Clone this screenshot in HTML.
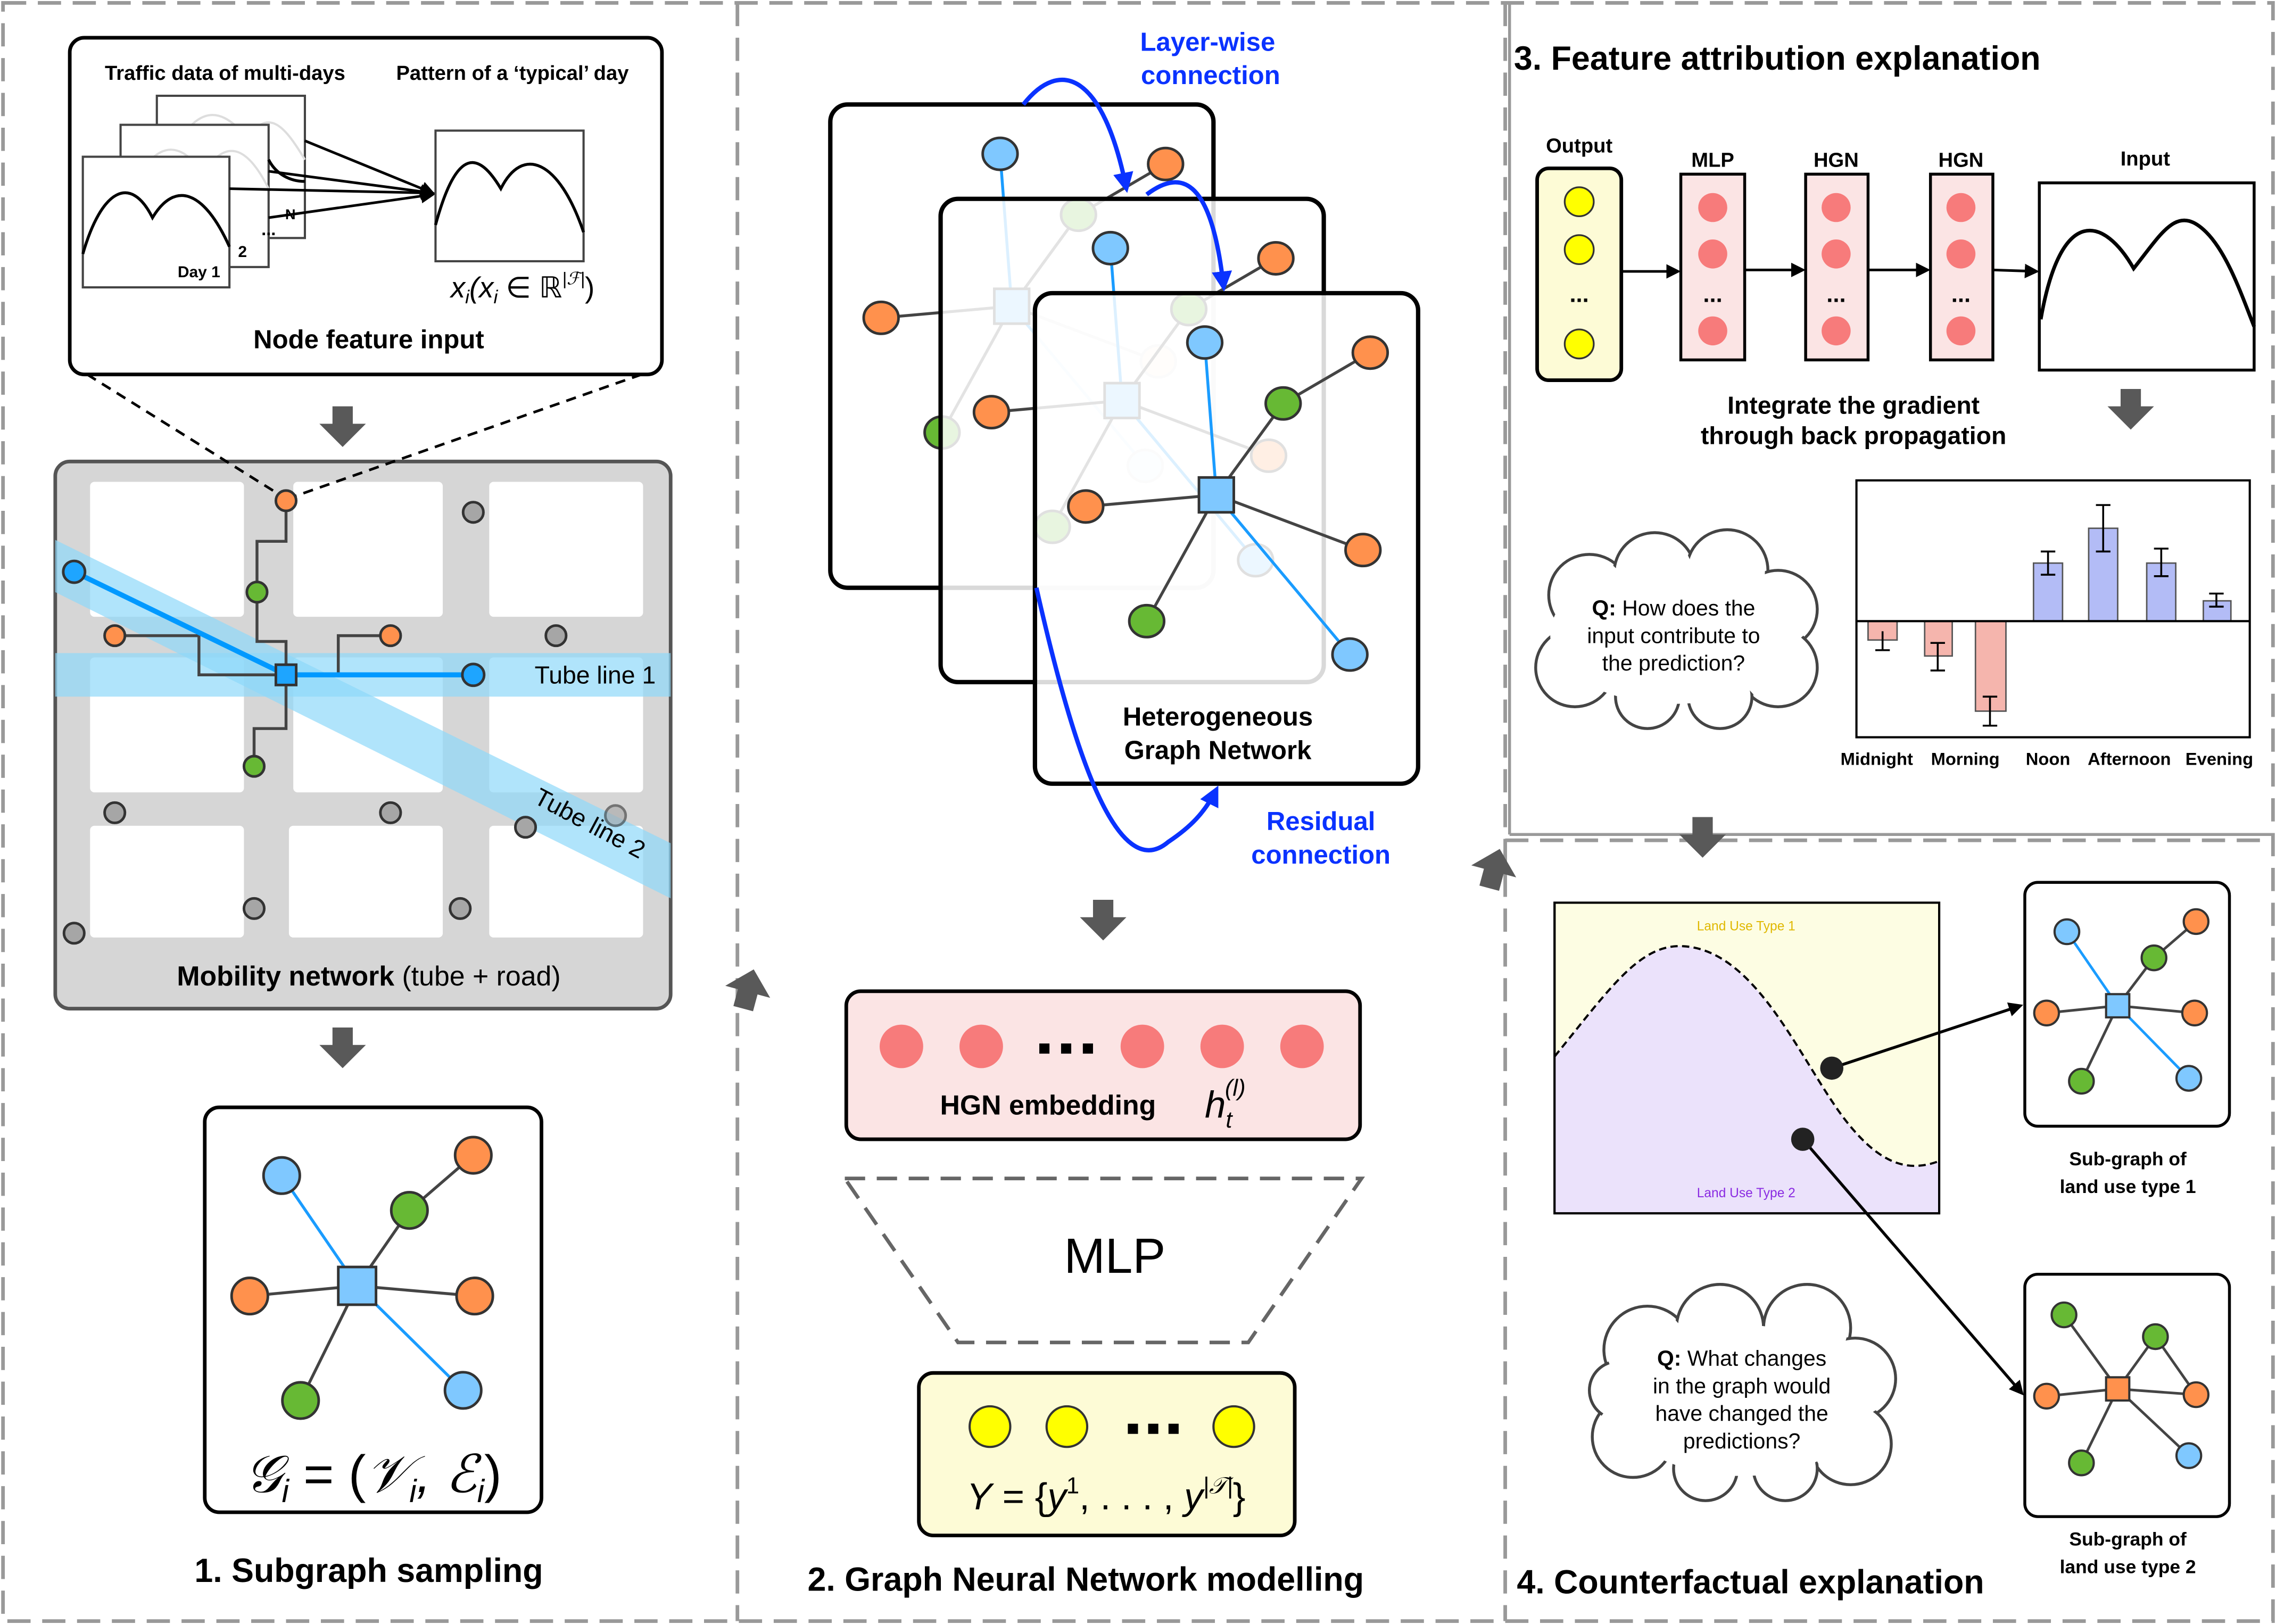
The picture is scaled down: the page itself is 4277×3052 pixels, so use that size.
<!DOCTYPE html>
<html><head><meta charset="utf-8"><style>
html,body{margin:0;padding:0;background:#fff;}
svg{display:block;}
text{font-family:"Liberation Sans",sans-serif;}
.b{font-weight:bold;}
</style></head><body>
<svg width="4277" height="3052" viewBox="0 0 1568 1119" xmlns="http://www.w3.org/2000/svg">
<defs>
<marker id="ah" markerWidth="10" markerHeight="10" refX="8" refY="5" orient="auto" markerUnits="userSpaceOnUse"><path d="M0,0 L10,5 L0,10 z" fill="#000"/></marker>
<marker id="bh" markerWidth="14" markerHeight="14" refX="11" refY="7" orient="auto" markerUnits="userSpaceOnUse"><path d="M0,0 L14,7 L0,14 z" fill="#0a32ff"/></marker>
<g id="garrow"><path d="M-7,0 H7 V12 H16 L0,28 L-16,12 H-7 Z" fill="#595959"/></g>
<g id="hgraph">
<line x1="125" y1="139" x2="117" y2="34" stroke="#1a9cff" stroke-width="2"/>
<line x1="125" y1="139" x2="171" y2="76" stroke="#444" stroke-width="2"/>
<line x1="171" y1="76" x2="231" y2="41" stroke="#444" stroke-width="2"/>
<line x1="125" y1="139" x2="35" y2="147" stroke="#444" stroke-width="2"/>
<line x1="125" y1="139" x2="226" y2="177" stroke="#444" stroke-width="2"/>
<line x1="125" y1="139" x2="77" y2="226" stroke="#444" stroke-width="2"/>
<line x1="125" y1="139" x2="217" y2="249" stroke="#1a9cff" stroke-width="2"/>
<g stroke="#333" stroke-width="1.8">
<ellipse cx="117" cy="34" rx="12" ry="11" fill="#7fc8ff"/>
<ellipse cx="231" cy="41" rx="12" ry="11" fill="#ff914d"/>
<ellipse cx="171" cy="76" rx="12" ry="11" fill="#67b934"/>
<ellipse cx="35" cy="147" rx="12" ry="11" fill="#ff914d"/>
<ellipse cx="226" cy="177" rx="12" ry="11" fill="#ff914d"/>
<ellipse cx="77" cy="226" rx="12" ry="11" fill="#67b934"/>
<ellipse cx="217" cy="249" rx="12" ry="11" fill="#7fc8ff"/>
<rect x="113" y="127" width="24" height="24" fill="#7fc8ff"/>
</g>
</g>
</defs>

<!-- panel borders -->
<rect x="2" y="2" width="1564" height="1115" fill="none" stroke="#999" stroke-width="2.5" stroke-dasharray="16 8"/>
<line x1="508" y1="2" x2="508" y2="1117" stroke="#999" stroke-width="2.5" stroke-dasharray="16 8"/>
<line x1="1037" y1="2" x2="1037" y2="1117" stroke="#999" stroke-width="2.5" stroke-dasharray="16 8"/>
<line x1="1040" y1="2" x2="1040" y2="575" stroke="#999" stroke-width="2"/>
<line x1="1040" y1="575" x2="1566" y2="575" stroke="#999" stroke-width="2"/>
<line x1="1037" y1="579" x2="1566" y2="579" stroke="#999" stroke-width="2.5" stroke-dasharray="16 8"/>

<!-- ===== Panel 1 ===== -->
<rect x="48" y="26" width="408" height="232" rx="10" fill="#fff" stroke="#000" stroke-width="2.5"/>
<text x="155" y="55" class="b" font-size="14" text-anchor="middle">Traffic data of multi-days</text>
<text x="353" y="55" class="b" font-size="14" text-anchor="middle">Pattern of a ‘typical’ day</text>
<rect x="108" y="66" width="102" height="98" fill="#fff" stroke="#444" stroke-width="1.5"/>
<path d="M108,130 C130,70 150,70 170,95 C185,75 195,85 210,110" fill="none" stroke="#ddd" stroke-width="1.5"/>
<text x="200" y="151" class="b" font-size="10" text-anchor="middle">N</text>
<rect x="83" y="86" width="102" height="98" fill="#fff" stroke="#444" stroke-width="1.5"/>
<path d="M83,150 C100,100 120,90 140,120 C155,95 170,100 185,130" fill="none" stroke="#ddd" stroke-width="1.5"/>
<text x="167" y="177" class="b" font-size="11" text-anchor="middle">2</text>
<text x="185" y="162" class="b" font-size="12" text-anchor="middle">...</text>
<rect x="57" y="108" width="101" height="90" fill="#fff" stroke="#444" stroke-width="1.5"/>
<path d="M57,175 C70,130 90,120 105,150 C120,125 140,130 158,170" fill="none" stroke="#000" stroke-width="2"/>
<text x="137" y="191" class="b" font-size="11" text-anchor="middle">Day 1</text>
<path d="M185,110 C190,120 200,125 210,125" fill="none" stroke="#000" stroke-width="2"/>
<g stroke="#000" stroke-width="1.8" marker-end="url(#ah)">
<line x1="210" y1="97" x2="298" y2="133"/>
<line x1="185" y1="118" x2="298" y2="133"/>
<line x1="158" y1="130" x2="298" y2="133"/>
<line x1="185" y1="150" x2="298" y2="134"/>
</g>
<rect x="300" y="90" width="102" height="90" fill="#fff" stroke="#444" stroke-width="1.5"/>
<path d="M300,155 C315,100 330,105 345,130 C360,100 385,110 402,160" fill="none" stroke="#000" stroke-width="2"/>
<text x="360" y="205" font-family="Liberation Serif,serif" font-style="italic" font-size="20" text-anchor="middle">x<tspan font-size="13" dy="4">i</tspan><tspan dy="-4">(x</tspan><tspan font-size="13" dy="4">i</tspan><tspan dy="-4" font-style="normal"> ∈ ℝ</tspan><tspan font-size="12" dy="-9">|ℱ|</tspan><tspan dy="9" font-style="normal">)</tspan></text>
<text x="254" y="240" class="b" font-size="18" text-anchor="middle">Node feature input</text>
<use href="#garrow" x="236" y="280"/>

<!-- mobility -->
<rect x="38" y="318" width="424" height="377" rx="10" fill="#d6d6d6" stroke="#555" stroke-width="2.5"/>
<g fill="#fff">
<rect x="62" y="332" width="106" height="93" rx="3"/><rect x="202" y="332" width="103" height="93" rx="3"/><rect x="337" y="332" width="106" height="93" rx="3"/>
<rect x="62" y="453" width="106" height="93" rx="3"/><rect x="202" y="453" width="103" height="93" rx="3"/><rect x="337" y="453" width="106" height="93" rx="3"/>
<rect x="62" y="569" width="106" height="77" rx="3"/><rect x="199" y="569" width="106" height="77" rx="3"/><rect x="337" y="569" width="106" height="77" rx="3"/>
</g>
<line x1="60" y1="258" x2="196" y2="343" stroke="#000" stroke-width="1.8" stroke-dasharray="7 5"/>
<line x1="442" y1="258" x2="200" y2="343" stroke="#000" stroke-width="1.8" stroke-dasharray="7 5"/>
<rect x="38" y="450" width="424" height="30" fill="#8ed8fa" opacity="0.7"/>
<polygon points="38,372 462,581 462,619 38,408" fill="#8ed8fa" opacity="0.7"/>
<g fill="none" stroke="#444" stroke-width="2">
<polyline points="197,345 197,373 177,373 177,442 197,442 197,502 175,502 175,528"/>
<polyline points="79,438 137,438 137,465 197,465"/>
<polyline points="269,438 233,438 233,465"/>
</g>
<polyline points="51,394 197,465 326,465" fill="none" stroke="#0099ff" stroke-width="3.5"/>
<g stroke="#333" stroke-width="1.8">
<circle cx="197" cy="345" r="7" fill="#ff914d"/>
<circle cx="326" cy="353" r="7" fill="#a6a6a6"/>
<circle cx="51" cy="394" r="7.5" fill="#1ea5ff"/>
<circle cx="177" cy="408" r="7" fill="#67b934"/>
<circle cx="79" cy="438" r="7" fill="#ff914d"/>
<circle cx="269" cy="438" r="7" fill="#ff914d"/>
<circle cx="383" cy="438" r="7" fill="#a6a6a6"/>
<circle cx="326" cy="465" r="7.5" fill="#1ea5ff"/>
<circle cx="175" cy="528" r="7" fill="#67b934"/>
<circle cx="79" cy="560" r="7" fill="#a6a6a6"/>
<circle cx="269" cy="560" r="7" fill="#a6a6a6"/>
<circle cx="362" cy="570" r="7" fill="#a6a6a6"/>
<circle cx="424" cy="562" r="7" fill="#a6a6a6" opacity="0.6"/>
<circle cx="175" cy="626" r="7" fill="#a6a6a6"/>
<circle cx="317" cy="626" r="7" fill="#a6a6a6"/>
<circle cx="51" cy="643" r="7" fill="#a6a6a6"/>
<rect x="190" y="458" width="14" height="14" fill="#1ea5ff"/>
</g>
<text x="410" y="471" font-size="17" text-anchor="middle">Tube line 1</text>
<text x="406" y="573" font-size="17" text-anchor="middle" transform="rotate(28 406 568)">Tube line 2</text>
<text x="254" y="679" font-size="19" text-anchor="middle"><tspan class="b">Mobility network</tspan> (tube + road)</text>
<use href="#garrow" x="236" y="708"/>

<!-- subgraph -->
<rect x="141" y="763" width="232" height="279" rx="10" fill="#fff" stroke="#000" stroke-width="2.5"/>
<g stroke-width="2">
<line x1="246" y1="886" x2="194" y2="810" stroke="#1a9cff"/>
<line x1="246" y1="886" x2="282" y2="834" stroke="#444"/>
<line x1="282" y1="834" x2="326" y2="796" stroke="#444"/>
<line x1="246" y1="886" x2="172" y2="893" stroke="#444"/>
<line x1="246" y1="886" x2="327" y2="893" stroke="#444"/>
<line x1="246" y1="886" x2="207" y2="965" stroke="#444"/>
<line x1="246" y1="886" x2="319" y2="958" stroke="#1a9cff"/>
</g>
<g stroke="#333" stroke-width="1.8">
<circle cx="194" cy="810" r="12.5" fill="#7fc8ff"/>
<circle cx="326" cy="796" r="12.5" fill="#ff914d"/>
<circle cx="282" cy="834" r="12.5" fill="#67b934"/>
<circle cx="172" cy="893" r="12.5" fill="#ff914d"/>
<circle cx="327" cy="893" r="12.5" fill="#ff914d"/>
<circle cx="207" cy="965" r="12.5" fill="#67b934"/>
<circle cx="319" cy="958" r="12.5" fill="#7fc8ff"/>
<rect x="233" y="873" width="26" height="26" fill="#7fc8ff"/>
</g>
<text x="257" y="1028" font-family="Liberation Serif,serif" font-style="italic" font-size="36" text-anchor="middle">𝒢<tspan font-size="22" dy="7">i</tspan><tspan dy="-7" font-style="normal"> = (</tspan>𝒱<tspan font-size="22" dy="7">i</tspan><tspan dy="-7">, </tspan>ℰ<tspan font-size="22" dy="7">i</tspan><tspan dy="-7" font-style="normal">)</tspan></text>
<text x="254" y="1090" class="b" font-size="23" text-anchor="middle">1. Subgraph sampling</text>

<!-- slanted arrows -->
<use href="#garrow" transform="translate(512,695) rotate(-165)"/>
<use href="#garrow" transform="translate(1026,612) rotate(-165)"/>

<!-- ===== Panel 2 ===== -->
<text x="832" y="35" class="b" font-size="18" fill="#0a32ff" text-anchor="middle">Layer-wise</text>
<text x="834" y="58" class="b" font-size="18" fill="#0a32ff" text-anchor="middle">connection</text>
<rect x="572" y="72" width="264" height="333" rx="12" fill="#fff" stroke="#000" stroke-width="3"/>
<use href="#hgraph" x="572" y="72"/>
<rect x="648" y="137" width="264" height="333" rx="12" fill="#fff" fill-opacity="0.85" stroke="#000" stroke-width="3"/>
<use href="#hgraph" x="648" y="137"/>
<rect x="713" y="202" width="264" height="338" rx="12" fill="#fff" fill-opacity="0.85" stroke="#000" stroke-width="3"/>
<use href="#hgraph" x="713" y="202"/>
<text x="839" y="500" class="b" font-size="18" text-anchor="middle">Heterogeneous</text>
<text x="839" y="523" class="b" font-size="18" text-anchor="middle">Graph Network</text>
<path d="M705,72 C730,40 760,50 776,130" fill="none" stroke="#0a32ff" stroke-width="3" marker-end="url(#bh)"/>
<path d="M790,134 C815,115 835,125 843,198" fill="none" stroke="#0a32ff" stroke-width="3" marker-end="url(#bh)"/>
<path d="M714,405 C740,520 770,610 805,580 C820,570 830,560 838,544" fill="none" stroke="#0a32ff" stroke-width="3" marker-end="url(#bh)"/>
<text x="910" y="572" class="b" font-size="18" fill="#0a32ff" text-anchor="middle">Residual</text>
<text x="910" y="595" class="b" font-size="18" fill="#0a32ff" text-anchor="middle">connection</text>
<use href="#garrow" x="760" y="620"/>

<rect x="583" y="683" width="354" height="102" rx="10" fill="#fbe4e4" stroke="#000" stroke-width="2.5"/>
<g fill="#f77b7b">
<circle cx="621" cy="721" r="15"/><circle cx="676" cy="721" r="15"/><circle cx="787" cy="721" r="15"/><circle cx="842" cy="721" r="15"/><circle cx="897" cy="721" r="15"/>
</g>
<g fill="#000"><rect x="716" y="719" width="7" height="7"/><rect x="731" y="719" width="7" height="7"/><rect x="746" y="719" width="7" height="7"/></g>
<text x="722" y="768" class="b" font-size="19" text-anchor="middle">HGN embedding</text>
<text x="830" y="770" font-family="Liberation Serif,serif" font-style="italic" font-size="26">h<tspan font-size="16" dy="7">t</tspan><tspan font-size="16" dx="-5" dy="-22">(l)</tspan></text>

<polygon points="582,812 938,812 860,925 660,925" fill="none" stroke="#666" stroke-width="2.5" stroke-dasharray="14 8"/>
<text x="768" y="877" font-size="34" text-anchor="middle">MLP</text>

<rect x="633" y="946" width="259" height="112" rx="10" fill="#fdfbd6" stroke="#000" stroke-width="2.5"/>
<g fill="#ffff00" stroke="#333" stroke-width="1.5">
<circle cx="682" cy="983" r="14"/><circle cx="735" cy="983" r="14"/><circle cx="850" cy="983" r="14"/>
</g>
<g fill="#000"><rect x="777" y="981" width="7" height="7"/><rect x="791" y="981" width="7" height="7"/><rect x="805" y="981" width="7" height="7"/></g>
<text x="762" y="1040" font-family="Liberation Serif,serif" font-style="italic" font-size="26" text-anchor="middle">Y<tspan font-style="normal"> = {</tspan>y<tspan font-size="16" dy="-11" font-style="normal">1</tspan><tspan dy="11" font-style="normal">, . . . , </tspan>y<tspan font-size="16" dy="-11">|𝒯|</tspan><tspan dy="11" font-style="normal">}</tspan></text>
<text x="748" y="1096" class="b" font-size="23" text-anchor="middle">2. Graph Neural Network modelling</text>

<!-- ===== Panel 3 ===== -->
<text x="1043" y="48" class="b" font-size="23">3. Feature attribution explanation</text>
<text x="1088" y="105" class="b" font-size="14" text-anchor="middle">Output</text>
<rect x="1059" y="116" width="58" height="146" rx="8" fill="#fdfbd6" stroke="#000" stroke-width="2.5"/>
<g fill="#ffff00" stroke="#333" stroke-width="1.2"><circle cx="1088" cy="139" r="10"/><circle cx="1088" cy="172" r="10"/><circle cx="1088" cy="237" r="10"/></g>
<text x="1088" y="208" class="b" font-size="16" text-anchor="middle">...</text>
<g>
<text x="1180" y="115" class="b" font-size="14" text-anchor="middle">MLP</text>
<rect x="1158" y="120" width="44" height="128" fill="#fbe4e4" stroke="#000" stroke-width="2"/>
<text x="1265" y="115" class="b" font-size="14" text-anchor="middle">HGN</text>
<rect x="1244" y="120" width="43" height="128" fill="#fbe4e4" stroke="#000" stroke-width="2"/>
<text x="1351" y="115" class="b" font-size="14" text-anchor="middle">HGN</text>
<rect x="1330" y="120" width="43" height="128" fill="#fbe4e4" stroke="#000" stroke-width="2"/>
<g fill="#f77b7b">
<circle cx="1180" cy="143" r="10"/><circle cx="1180" cy="175" r="10"/><circle cx="1180" cy="228" r="10"/>
<circle cx="1265" cy="143" r="10"/><circle cx="1265" cy="175" r="10"/><circle cx="1265" cy="228" r="10"/>
<circle cx="1351" cy="143" r="10"/><circle cx="1351" cy="175" r="10"/><circle cx="1351" cy="228" r="10"/>
</g>
<text x="1180" y="208" class="b" font-size="16" text-anchor="middle">...</text>
<text x="1265" y="208" class="b" font-size="16" text-anchor="middle">...</text>
<text x="1351" y="208" class="b" font-size="16" text-anchor="middle">...</text>
</g>
<text x="1478" y="114" class="b" font-size="14" text-anchor="middle">Input</text>
<rect x="1405" y="126" width="148" height="129" fill="#fff" stroke="#000" stroke-width="2"/>
<path d="M1406,220 C1420,140 1450,150 1470,185 C1490,160 1500,140 1520,160 C1535,175 1545,205 1553,225" fill="none" stroke="#000" stroke-width="2.5"/>
<g stroke="#000" stroke-width="1.8" marker-end="url(#ah)">
<line x1="1117" y1="187" x2="1156" y2="187"/>
<line x1="1202" y1="186" x2="1242" y2="186"/>
<line x1="1287" y1="186" x2="1328" y2="186"/>
<line x1="1373" y1="186" x2="1403" y2="187"/>
</g>
<text x="1277" y="285" class="b" font-size="17" text-anchor="middle">Integrate the gradient</text>
<text x="1277" y="306" class="b" font-size="17" text-anchor="middle">through back propagation</text>
<use href="#garrow" x="1468" y="268"/>

<!-- bar chart -->
<rect x="1279" y="331" width="271" height="177" fill="#fff" stroke="#000" stroke-width="1.5"/>
<g stroke="#555" stroke-width="1">
<rect x="1287" y="428" width="20" height="13" fill="#f5b5ad"/>
<rect x="1326" y="428" width="19" height="24" fill="#f5b5ad"/>
<rect x="1361" y="428" width="21" height="62" fill="#f5b5ad"/>
<rect x="1401" y="388" width="20" height="40" fill="#b3bcf6"/>
<rect x="1439" y="364" width="20" height="64" fill="#b3bcf6"/>
<rect x="1479" y="388" width="20" height="40" fill="#b3bcf6"/>
<rect x="1518" y="414" width="19" height="14" fill="#b3bcf6"/>
</g>
<g stroke="#000" stroke-width="1.3" fill="none">
<path d="M1297,435 V448 M1292,448 H1302"/>
<path d="M1335,443 V462 M1330,462 H1340 M1330,443 H1340"/>
<path d="M1371,480 V500 M1366,500 H1376 M1366,480 H1376"/>
<path d="M1411,380 V396 M1406,380 H1416 M1406,396 H1416"/>
<path d="M1449,348 V380 M1444,348 H1454 M1444,380 H1454"/>
<path d="M1489,378 V397 M1484,378 H1494 M1484,397 H1494"/>
<path d="M1527,409 V418 M1522,409 H1532 M1522,418 H1532"/>
</g>
<line x1="1279" y1="428" x2="1550" y2="428" stroke="#000" stroke-width="1.5"/>
<g font-size="12" text-anchor="middle" font-weight="bold">
<text x="1293" y="527">Midnight</text><text x="1354" y="527">Morning</text><text x="1411" y="527">Noon</text><text x="1467" y="527">Afternoon</text><text x="1529" y="527">Evening</text>
</g>

<!-- cloud 1 -->
<g stroke="#444" stroke-width="2" fill="#fff">
<circle cx="1095" cy="410" r="28"/><circle cx="1140" cy="395" r="28"/><circle cx="1190" cy="393" r="28"/><circle cx="1225" cy="420" r="27"/><circle cx="1225" cy="460" r="27"/><circle cx="1185" cy="480" r="22"/><circle cx="1135" cy="480" r="22"/><circle cx="1085" cy="460" r="27"/>
</g>
<g fill="#fff"><circle cx="1095" cy="410" r="26"/><circle cx="1140" cy="395" r="26"/><circle cx="1190" cy="393" r="26"/><circle cx="1225" cy="420" r="25"/><circle cx="1225" cy="460" r="25"/><circle cx="1185" cy="480" r="20"/><circle cx="1135" cy="480" r="20"/><circle cx="1085" cy="460" r="25"/><ellipse cx="1153" cy="437" rx="85" ry="48"/></g>
<text x="1153" y="424" font-size="15" text-anchor="middle"><tspan class="b">Q:</tspan> How does the</text>
<text x="1153" y="443" font-size="15" text-anchor="middle">input contribute to</text>
<text x="1153" y="462" font-size="15" text-anchor="middle">the prediction?</text>

<!-- ===== Panel 4 ===== -->
<use href="#garrow" x="1173" y="563"/>
<rect x="1071" y="622" width="265" height="214" fill="#fdfde3" stroke="#000" stroke-width="1.5"/>
<path d="M1071,728 C1110,680 1130,650 1160,652 C1210,655 1240,730 1270,770 C1295,803 1315,808 1336,800 V836 H1071 Z" fill="#ebe2fb"/>
<path d="M1071,728 C1110,680 1130,650 1160,652 C1210,655 1240,730 1270,770 C1295,803 1315,808 1336,800" fill="none" stroke="#000" stroke-width="1.5" stroke-dasharray="5 3"/>
<rect x="1071" y="622" width="265" height="214" fill="none" stroke="#000" stroke-width="1.5"/>
<text x="1203" y="641" font-size="9" fill="#e0b800" text-anchor="middle">Land Use Type 1</text>
<text x="1203" y="825" font-size="9" fill="#8a2be2" text-anchor="middle">Land Use Type 2</text>
<line x1="1262" y1="736" x2="1392" y2="693" stroke="#000" stroke-width="2" marker-end="url(#ah)"/>
<line x1="1242" y1="785" x2="1393" y2="960" stroke="#000" stroke-width="2" marker-end="url(#ah)"/>
<circle cx="1262" cy="736" r="8" fill="#222"/>
<circle cx="1242" cy="785" r="8" fill="#222"/>

<rect x="1395" y="608" width="141" height="168" rx="9" fill="#fff" stroke="#000" stroke-width="2"/>
<g stroke-width="1.8">
<line x1="1459" y1="693" x2="1424" y2="642" stroke="#1a9cff"/>
<line x1="1459" y1="693" x2="1484" y2="660" stroke="#444"/>
<line x1="1484" y1="660" x2="1513" y2="635" stroke="#444"/>
<line x1="1459" y1="693" x2="1410" y2="698" stroke="#444"/>
<line x1="1459" y1="693" x2="1512" y2="698" stroke="#444"/>
<line x1="1459" y1="693" x2="1434" y2="745" stroke="#444"/>
<line x1="1459" y1="693" x2="1508" y2="743" stroke="#1a9cff"/>
</g>
<g stroke="#333" stroke-width="1.5">
<circle cx="1424" cy="642" r="8.5" fill="#7fc8ff"/><circle cx="1513" cy="635" r="8.5" fill="#ff914d"/><circle cx="1484" cy="660" r="8.5" fill="#67b934"/>
<circle cx="1410" cy="698" r="8.5" fill="#ff914d"/><circle cx="1512" cy="698" r="8.5" fill="#ff914d"/><circle cx="1434" cy="745" r="8.5" fill="#67b934"/><circle cx="1508" cy="743" r="8.5" fill="#7fc8ff"/>
<rect x="1451" y="685" width="16" height="16" fill="#7fc8ff"/>
</g>
<text x="1466" y="803" class="b" font-size="13" text-anchor="middle">Sub-graph of</text>
<text x="1466" y="822" class="b" font-size="13" text-anchor="middle">land use type 1</text>

<rect x="1395" y="878" width="141" height="167" rx="9" fill="#fff" stroke="#000" stroke-width="2"/>
<g stroke-width="1.8" stroke="#444">
<line x1="1459" y1="957" x2="1422" y2="906"/>
<line x1="1459" y1="957" x2="1485" y2="921"/>
<line x1="1485" y1="921" x2="1513" y2="961"/>
<line x1="1459" y1="957" x2="1410" y2="962"/>
<line x1="1459" y1="957" x2="1513" y2="961"/>
<line x1="1459" y1="957" x2="1434" y2="1008"/>
<line x1="1459" y1="957" x2="1508" y2="1003"/>
</g>
<g stroke="#333" stroke-width="1.5">
<circle cx="1422" cy="906" r="8.5" fill="#67b934"/><circle cx="1485" cy="921" r="8.5" fill="#67b934"/><circle cx="1513" cy="961" r="8.5" fill="#ff914d"/>
<circle cx="1410" cy="962" r="8.5" fill="#ff914d"/><circle cx="1434" cy="1008" r="8.5" fill="#67b934"/><circle cx="1508" cy="1003" r="8.5" fill="#7fc8ff"/>
<rect x="1451" y="949" width="16" height="16" fill="#ff914d"/>
</g>
<text x="1466" y="1065" class="b" font-size="13" text-anchor="middle">Sub-graph of</text>
<text x="1466" y="1084" class="b" font-size="13" text-anchor="middle">land use type 2</text>

<!-- cloud 2 -->
<g stroke="#444" stroke-width="2" fill="#fff">
<circle cx="1135" cy="930" r="30"/><circle cx="1185" cy="915" r="30"/><circle cx="1245" cy="915" r="30"/><circle cx="1278" cy="950" r="28"/><circle cx="1275" cy="995" r="28"/><circle cx="1230" cy="1012" r="22"/><circle cx="1175" cy="1012" r="22"/><circle cx="1125" cy="990" r="28"/><circle cx="1115" cy="958" r="20"/>
</g>
<g fill="#fff"><circle cx="1135" cy="930" r="28"/><circle cx="1185" cy="915" r="28"/><circle cx="1245" cy="915" r="28"/><circle cx="1278" cy="950" r="26"/><circle cx="1275" cy="995" r="26"/><circle cx="1230" cy="1012" r="20"/><circle cx="1175" cy="1012" r="20"/><circle cx="1125" cy="990" r="26"/><circle cx="1115" cy="958" r="18"/><ellipse cx="1200" cy="965" rx="88" ry="52"/></g>
<text x="1200" y="941" font-size="15" text-anchor="middle"><tspan class="b">Q:</tspan> What changes</text>
<text x="1200" y="960" font-size="15" text-anchor="middle">in the graph would</text>
<text x="1200" y="979" font-size="15" text-anchor="middle">have changed the</text>
<text x="1200" y="998" font-size="15" text-anchor="middle">predictions?</text>

<text x="1045" y="1098" class="b" font-size="23">4. Counterfactual explanation</text>
</svg>
</body></html>
